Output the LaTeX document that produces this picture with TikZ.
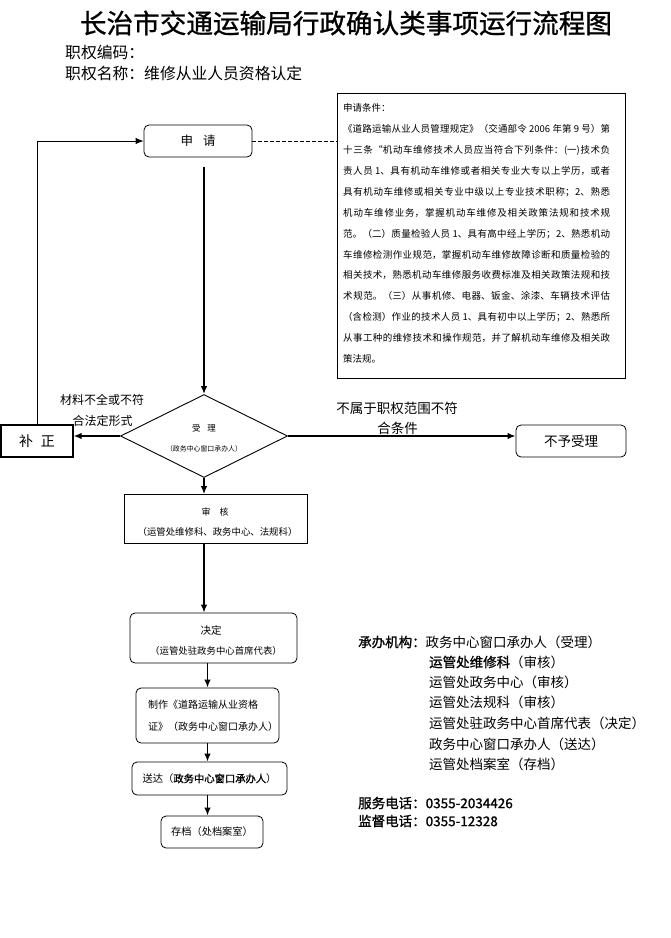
\documentclass[tikz,border=0pt]{standalone}
\usepackage{fontspec}
\setmainfont{Noto Sans CJK SC}
\newfontfamily\cjkmed[FakeBold=1.2]{Noto Sans CJK SC}
\newfontfamily\cjkhead[FakeBold=1]{Noto Sans CJK SC}
\usetikzlibrary{shapes.geometric,arrows.meta}
\XeTeXlinebreaklocale "zh"
\XeTeXlinebreakskip=0pt plus 2pt minus 0.35pt
\XeTeXlinebreakpenalty=10000
\newcommand\fsz[2]{\fontsize{#1pt}{#2pt}\selectfont}
\tikzset{
  box/.style={draw, line width=0.8pt, inner sep=0pt, align=center},
  rbox/.style={box, rounded corners=5pt},
  lbl/.style={inner sep=0pt, anchor=center},
  arr/.style={line width=1.5pt, -{Latex[length=8pt,width=6.5pt]}},
  thinarr/.style={line width=1pt, -{Latex[length=8pt,width=6.5pt]}},
}
\begin{document}
\begin{tikzpicture}[x=1pt,y=-1pt]
\fill[white] (0,0) rectangle (671,938);
\useasboundingbox (0,0) rectangle (671,938);

% header
\node[lbl, font={\cjkhead\fsz{26.6}{30}}] (title) at (346,23) {长治市交通运输局行政确认类事项运行流程图};
\node[lbl, anchor=west, font=\fsz{15.8}{18}] (code) at (65,52) {职权编码：};
\node[lbl, anchor=west, font=\fsz{15.8}{18}] (name) at (65,73) {职权名称：维修从业人员资格认定};

% condition box
\node[draw, line width=1.1pt, minimum width=288pt, minimum height=285pt, anchor=north west, inner sep=0pt] (cond) at (336.5,93) {};
\node[anchor=north west, inner sep=0pt, text width=267pt, align=justify, font=\fsz{9.5}{20.9}] (ctext) at (343,103.5) {%
申请条件：\\
《道路运输从业人员管理规定》（交通部令~2006~年第~9~号）第\linebreak
十三条“机动车维修技术人员应当符合下列条件：(一)技术负\linebreak
责人员~1、具有机动车维修或者相关专业大专以上学历，或者\linebreak
具有机动车维修或相关专业中级以上专业技术职称；2、熟悉\linebreak
机动车维修业务，掌握机动车维修及相关政策法规和技术规\linebreak
范。（二）质量检验人员~1、具有高中经上学历；2、熟悉机动\linebreak
车维修检测作业规范，掌握机动车维修故障诊断和质量检验的\linebreak
相关技术，熟悉机动车维修服务收费标准及相关政策法规和技\linebreak
术规范。（三）从事机修、电器、钣金、涂漆、车辆技术评估\linebreak
（含检测）作业的技术人员~1、具有初中以上学历；2、熟悉所\linebreak
从事工种的维修技术和操作规范，并了解机动车维修及相关政\linebreak
策法规。};

% flow nodes
\node[rbox, minimum width=108pt, minimum height=32pt, font=\fsz{12.5}{15}] (sq) at (198,141) {申\hspace{0.8em}请};
\node[draw, diamond, line width=0.9pt, minimum width=167pt, minimum height=83pt, inner sep=0pt] (sl) at (204,436) {};
\node[lbl, font=\fsz{8.5}{10}] (slt1) at (204,428) {受\hspace{0.8em}理};
\node[lbl, font=\fsz{6.9}{8}] (slt2) at (204,449) {（政务中心窗口承办人）};

\node[box, line width=1.1pt, minimum width=72pt, minimum height=32pt, font=\fsz{14}{16}] (bz) at (37,441) {补\hspace{0.55em}正};
\node[lbl, font=\fsz{12}{14}] (bzl1) at (102,400) {材料不全或不符};
\node[lbl, font=\fsz{12}{14}] (bzl2) at (102.5,421) {合法定形式};

\node[rbox, minimum width=110pt, minimum height=32pt, font=\fsz{13.5}{15}] (by) at (571,441) {不予受理};
\node[lbl, font=\fsz{13.5}{15}] (byl1) at (397,408) {不属于职权范围不符};
\node[lbl, font=\fsz{13.5}{15}] (byl2) at (397.5,428) {合条件};

\node[box, minimum width=183pt, minimum height=49pt] (sh) at (215.5,519) {};
\node[lbl, font=\fsz{9}{10}] (sht1) at (215,512) {审\hspace{1em}核};
\node[lbl, font=\fsz{9.4}{11}] (sht2) at (217.5,532) {（运管处维修科、政务中心、法规科）};

\node[rbox, minimum width=167pt, minimum height=50pt] (jd) at (213.5,638) {};
\node[lbl, font=\fsz{10.5}{12}] (jdt1) at (211,630) {决定};
\node[lbl, font=\fsz{9.4}{11}] (jdt2) at (216,651) {（运管处驻政务中心首席代表）};

\node[rbox, minimum width=143pt, minimum height=55pt] (zz) at (207.5,715.5) {};
\node[lbl, anchor=west, font=\fsz{10}{12}] (zzt1) at (148,705) {制作《道路运输从业资格};
\node[lbl, anchor=west, font=\fsz{10}{12}] (zzt2) at (148,727) {证》（政务中心窗口承办人）};

\node[rbox, minimum width=155pt, minimum height=33pt, font=\fsz{10.3}{12}] (sd) at (209.5,778.5) {送达（{\cjkmed 政务中心窗口承办人}）};
\node[rbox, minimum width=102pt, minimum height=32pt, font=\fsz{10.2}{12}] (cd) at (212,832) {存档（处档案室）};

% connectors
\draw[dashed, dash pattern=on 3.5pt off 2.5pt, line width=0.8pt] (sq.east) -- (sq.east -| cond.west);
\draw[arr] ([yshift=-10pt]sq.south -| sl.north) -- (sl.north);
\draw[arr] (sl.west) -- (sl.west -| bz.east);
\draw[thinarr] (bz.north) -- (bz.north |- sq.west) -- (sq.west);
\draw[arr] (sl.east) -- (sl.east -| by.west);
\draw[arr] (sl.south) -- (sl.south |- sh.north);
\draw[arr] (sh.south -| sl.south) -- (jd.north -| sl.south);
\draw[arr] (zz.north |- jd.south) -- (zz.north);
\draw[arr] (zz.south) -- (zz.south |- sd.north);
\draw[arr] (sd.south -| zz.south) -- (cd.north -| zz.south);

% agencies
\node[lbl, anchor=west, font=\fsz{13.5}{16}] (cb1) at (358,642) {{\cjkmed 承办机构：}政务中心窗口承办人（受理）};
\node[lbl, anchor=west, font=\fsz{13.5}{16}] (cb2) at (429,662) {{\cjkmed 运管处维修科}（审核）};
\node[lbl, anchor=west, font=\fsz{13.5}{16}] (cb3) at (429,682) {运管处政务中心（审核）};
\node[lbl, anchor=west, font=\fsz{13.5}{16}] (cb4) at (429,702) {运管处法规科（审核）};
\node[lbl, anchor=west, font=\fsz{13.5}{16}] (cb5) at (429,723) {运管处驻政务中心首席代表（决定）};
\node[lbl, anchor=west, font=\fsz{13.5}{16}] (cb6) at (429,744) {政务中心窗口承办人（送达）};
\node[lbl, anchor=west, font=\fsz{13.5}{16}] (cb7) at (429,764) {运管处档案室（存档）};
\node[lbl, anchor=west, font={\cjkmed\fsz{13.5}{16}}] (tel1) at (358,803) {服务电话：0355-2034426};
\node[lbl, anchor=west, font={\cjkmed\fsz{13.5}{16}}] (tel2) at (358,821) {监督电话：0355-12328};
\end{tikzpicture}
\end{document}
